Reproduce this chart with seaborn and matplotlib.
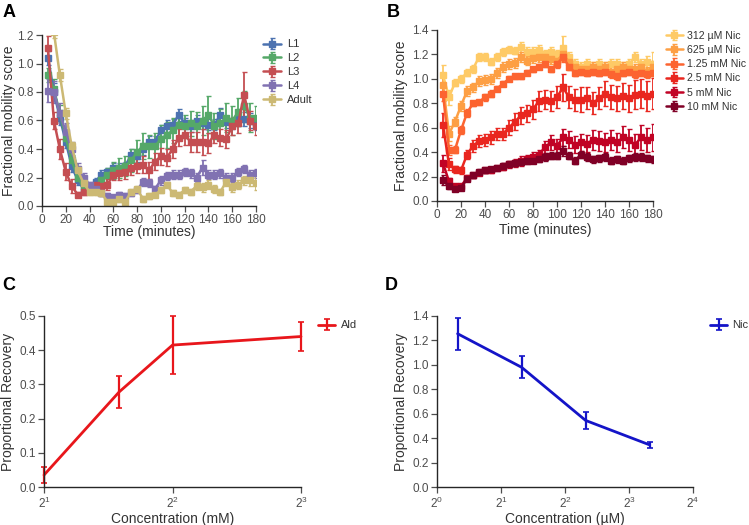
import numpy as np
import matplotlib
matplotlib.use("Agg")
import matplotlib.pyplot as plt
import seaborn as sns
from matplotlib.ticker import NullLocator, FixedLocator, FixedFormatter

sns.set_theme(style="ticks")
plt.rcParams['font.family'] = ['Liberation Sans', 'DejaVu Sans']
plt.rcParams['text.color'] = '0.2'
plt.rcParams['axes.labelcolor'] = '0.2'
plt.rcParams['xtick.color'] = '0.3'
plt.rcParams['ytick.color'] = '0.3'
plt.rcParams['axes.edgecolor'] = '0.15'
plt.rcParams['mathtext.default'] = 'regular'

# ---------------- Panel A data ----------------
time = list(range(5, 181, 5))
stages = ["L1", "L2", "L3", "L4", "Adult"]
L1 = [1.04, 0.80, 0.62, 0.45, 0.28, 0.18, 0.12, 0.14, 0.17, 0.22, 0.24, 0.27, 0.27, 0.28, 0.36, 0.35, 0.40, 0.45,
      0.45, 0.53, 0.56, 0.57, 0.64, 0.58, 0.56, 0.60, 0.58, 0.57, 0.57, 0.64, 0.59, 0.58, 0.61, 0.61, 0.60, 0.58]
L1_err = [0.05, 0.06, 0.05, 0.04, 0.04, 0.03, 0.02, 0.02, 0.03, 0.03, 0.03, 0.03, 0.03, 0.03, 0.04, 0.04, 0.04, 0.04,
          0.04, 0.04, 0.04, 0.04, 0.04, 0.04, 0.04, 0.04, 0.04, 0.04, 0.04, 0.05, 0.04, 0.04, 0.05, 0.05, 0.05, 0.05]
L2 = [0.92, 0.82, 0.65, 0.48, 0.32, 0.20, 0.13, 0.12, 0.14, 0.18, 0.22, 0.25, 0.27, 0.28, 0.32, 0.38, 0.42, 0.42,
      0.42, 0.47, 0.50, 0.53, 0.57, 0.56, 0.58, 0.56, 0.60, 0.64, 0.56, 0.58, 0.62, 0.60, 0.66, 0.70, 0.62, 0.62]
L2_err = [0.05, 0.07, 0.06, 0.05, 0.04, 0.03, 0.03, 0.03, 0.04, 0.05, 0.05, 0.06, 0.07, 0.07, 0.08, 0.08, 0.09, 0.08,
          0.09, 0.10, 0.09, 0.09, 0.08, 0.08, 0.09, 0.10, 0.10, 0.13, 0.09, 0.10, 0.10, 0.10, 0.10, 0.11, 0.10, 0.08]
L3 = [1.11, 0.60, 0.40, 0.24, 0.14, 0.08, 0.10, 0.13, 0.15, 0.14, 0.15, 0.22, 0.23, 0.24, 0.27, 0.28, 0.29, 0.25,
      0.31, 0.35, 0.34, 0.40, 0.48, 0.50, 0.45, 0.45, 0.45, 0.44, 0.50, 0.48, 0.47, 0.56, 0.58, 0.78, 0.60, 0.56]
L3_err = [0.08, 0.06, 0.07, 0.06, 0.05, 0.02, 0.02, 0.03, 0.03, 0.04, 0.04, 0.04, 0.05, 0.05, 0.05, 0.05, 0.06, 0.06,
          0.06, 0.06, 0.06, 0.06, 0.06, 0.07, 0.07, 0.07, 0.09, 0.07, 0.06, 0.06, 0.06, 0.06, 0.07, 0.16, 0.07, 0.06]
L4 = [0.81, 0.80, 0.65, 0.52, 0.40, 0.26, 0.20, 0.15, 0.12, 0.09, 0.07, 0.06, 0.08, 0.07, 0.09, 0.11, 0.17, 0.16,
      0.12, 0.18, 0.21, 0.22, 0.22, 0.24, 0.23, 0.20, 0.27, 0.22, 0.22, 0.23, 0.20, 0.20, 0.24, 0.26, 0.22, 0.23]
L4_err = [0.08, 0.08, 0.07, 0.06, 0.05, 0.04, 0.03, 0.02, 0.02, 0.02, 0.02, 0.02, 0.02, 0.02, 0.02, 0.02, 0.03, 0.03,
          0.02, 0.03, 0.03, 0.03, 0.03, 0.03, 0.03, 0.03, 0.05, 0.03, 0.03, 0.03, 0.03, 0.03, 0.03, 0.03, 0.03, 0.03]
Adult = [1.25, 1.22, 0.92, 0.65, 0.42, 0.25, 0.16, 0.10, 0.10, 0.09, 0.03, 0.03, 0.05, 0.03, 0.10, 0.12, 0.05, 0.07,
         0.08, 0.11, 0.15, 0.09, 0.08, 0.11, 0.10, 0.14, 0.13, 0.15, 0.12, 0.10, 0.17, 0.13, 0.15, 0.18, 0.18, 0.16]
Adult_err = [0.04, 0.04, 0.04, 0.04, 0.03, 0.03, 0.03, 0.02, 0.02, 0.02, 0.02, 0.02, 0.02, 0.02, 0.02, 0.02, 0.02, 0.02,
             0.02, 0.02, 0.02, 0.02, 0.02, 0.02, 0.02, 0.03, 0.03, 0.03, 0.03, 0.02, 0.03, 0.03, 0.03, 0.03, 0.04, 0.05]

# ---------------- Panel B data ----------------
doses = ["312 \u00b5M Nic", "625 \u00b5M Nic", "1.25 mM Nic", "2.5 mM Nic", "5 mM Nic", "10 mM Nic"]
N312 = [1.03, 0.85, 0.97, 1.00, 1.05, 1.08, 1.18, 1.18, 1.14, 1.18, 1.22, 1.24, 1.23, 1.26, 1.22, 1.22, 1.24, 1.20,
        1.22, 1.20, 1.25, 1.18, 1.12, 1.10, 1.12, 1.10, 1.12, 1.10, 1.12, 1.12, 1.10, 1.12, 1.18, 1.12, 1.14, 1.12]
N312_err = [0.08, 0.06, 0.03, 0.03, 0.03, 0.03, 0.03, 0.03, 0.03, 0.03, 0.03, 0.03, 0.03, 0.04, 0.04, 0.04, 0.04, 0.04,
            0.04, 0.04, 0.10, 0.04, 0.04, 0.04, 0.04, 0.04, 0.04, 0.04, 0.04, 0.04, 0.04, 0.04, 0.04, 0.04, 0.05, 0.10]
N625 = [0.95, 0.55, 0.65, 0.78, 0.90, 0.93, 0.98, 0.99, 1.00, 1.05, 1.10, 1.12, 1.13, 1.18, 1.15, 1.17, 1.18, 1.18,
        1.16, 1.15, 1.20, 1.14, 1.10, 1.08, 1.08, 1.10, 1.08, 1.10, 1.06, 1.08, 1.10, 1.08, 1.08, 1.10, 1.06, 1.10]
N625_err = [0.08, 0.06, 0.04, 0.04, 0.04, 0.04, 0.04, 0.04, 0.04, 0.04, 0.04, 0.04, 0.04, 0.04, 0.04, 0.04, 0.04, 0.04,
            0.04, 0.04, 0.05, 0.04, 0.04, 0.04, 0.04, 0.04, 0.04, 0.04, 0.04, 0.04, 0.04, 0.04, 0.04, 0.04, 0.04, 0.05]
N1250 = [0.88, 0.42, 0.42, 0.58, 0.72, 0.80, 0.81, 0.85, 0.88, 0.92, 0.96, 1.00, 1.02, 1.02, 1.05, 1.08, 1.10, 1.12,
         1.08, 1.12, 1.18, 1.10, 1.05, 1.06, 1.05, 1.06, 1.05, 1.06, 1.04, 1.02, 1.05, 1.06, 1.04, 1.05, 1.04, 1.05]
N1250_err = [0.06, 0.04, 0.03, 0.03, 0.03, 0.02, 0.02, 0.03, 0.03, 0.02, 0.02, 0.02, 0.02, 0.02, 0.02, 0.02, 0.02, 0.02,
             0.02, 0.03, 0.04, 0.03, 0.03, 0.03, 0.03, 0.03, 0.03, 0.03, 0.03, 0.03, 0.03, 0.03, 0.03, 0.03, 0.03, 0.03]
N2500 = [0.62, 0.30, 0.26, 0.25, 0.38, 0.45, 0.49, 0.50, 0.52, 0.55, 0.55, 0.60, 0.65, 0.70, 0.72, 0.75, 0.82, 0.83,
         0.82, 0.85, 0.93, 0.85, 0.83, 0.83, 0.84, 0.80, 0.84, 0.88, 0.85, 0.84, 0.86, 0.84, 0.87, 0.88, 0.86, 0.88]
N2500_err = [0.10, 0.05, 0.03, 0.03, 0.04, 0.05, 0.05, 0.05, 0.05, 0.05, 0.05, 0.06, 0.07, 0.07, 0.07, 0.08, 0.08, 0.08,
             0.08, 0.09, 0.11, 0.09, 0.09, 0.10, 0.09, 0.09, 0.09, 0.10, 0.10, 0.10, 0.11, 0.11, 0.12, 0.12, 0.12, 0.13]
N5000 = [0.31, 0.16, 0.12, 0.12, 0.19, 0.21, 0.23, 0.25, 0.25, 0.27, 0.28, 0.30, 0.31, 0.33, 0.34, 0.36, 0.38, 0.44,
         0.48, 0.45, 0.52, 0.50, 0.46, 0.48, 0.47, 0.50, 0.49, 0.48, 0.50, 0.48, 0.52, 0.50, 0.46, 0.52, 0.50, 0.52]
N5000_err = [0.07, 0.03, 0.02, 0.02, 0.02, 0.02, 0.02, 0.02, 0.02, 0.02, 0.03, 0.03, 0.03, 0.04, 0.04, 0.04, 0.04, 0.05,
             0.06, 0.06, 0.07, 0.07, 0.07, 0.07, 0.07, 0.08, 0.08, 0.08, 0.08, 0.08, 0.09, 0.09, 0.09, 0.10, 0.10, 0.11]
N10000 = [0.17, 0.12, 0.10, 0.11, 0.18, 0.21, 0.24, 0.25, 0.26, 0.27, 0.29, 0.30, 0.31, 0.32, 0.33, 0.33, 0.34, 0.36,
          0.37, 0.37, 0.41, 0.37, 0.33, 0.38, 0.36, 0.34, 0.35, 0.36, 0.33, 0.34, 0.33, 0.35, 0.36, 0.36, 0.35, 0.34]
N10000_err = [0.04, 0.02, 0.02, 0.02, 0.02, 0.02, 0.02, 0.02, 0.02, 0.02, 0.02, 0.02, 0.02, 0.02, 0.02, 0.02, 0.02, 0.03,
              0.03, 0.03, 0.04, 0.03, 0.03, 0.03, 0.03, 0.03, 0.03, 0.03, 0.03, 0.03, 0.03, 0.03, 0.03, 0.03, 0.03, 0.03]

# ---------------- Panel C data ----------------
ald_conc = [2, 3, 4, 8]
ald_rec = [0.035, 0.278, 0.415, 0.440]
ald_err = [0.023, 0.047, 0.086, 0.042]

# ---------------- Panel D data ----------------
nic_conc = [1.25, 2.5, 5, 10]
nic_rec = [1.255, 0.98, 0.545, 0.345]
nic_err = [0.13, 0.09, 0.07, 0.025]

W, H = 749, 525
fig = plt.figure(figsize=(W / 100, H / 100), dpi=100)

def box(l, t, r, b):
    return [l / W, 1 - b / H, (r - l) / W, (b - t) / H]

axA = fig.add_axes(box(42, 35, 256, 206))
axB = fig.add_axes(box(437, 30, 653, 201))
axC = fig.add_axes(box(44, 316, 301, 487))
axD = fig.add_axes(box(437, 316, 693, 487))

tick_fs = 8.5
lab_fs = 10

def style(ax, ylab_px, left_px, width_px):
    sns.despine(ax=ax)
    ax.tick_params(labelsize=tick_fs, length=4, width=0.9, direction='out', pad=2)
    for s in ax.spines.values():
        s.set_linewidth(1.0)
    # right edge of the rotated y label (in figure pixels)
    ax.yaxis.set_label_coords((ylab_px - left_px) / width_px, 0.5)

# Panel A
palA = sns.color_palette(["#4C72B0", "#55A868", "#C44E52", "#8172B2", "#CCB974"])
seriesA = [(L1, L1_err), (L2, L2_err), (L3, L3_err), (L4, L4_err), (Adult, Adult_err)]
for (m, e), name, c in zip(seriesA, stages, palA):
    axA.errorbar(time, m, yerr=e, color=c, marker='s', markersize=4, lw=1.8,
                 elinewidth=1.3, capsize=1.8, capthick=1.0, label=name)
axA.set_xlim(0, 180)
axA.set_ylim(0, 1.2)
axA.set_xticks(range(0, 181, 20))
axA.set_yticks(np.arange(0, 1.21, 0.2))
axA.set_xlabel("Time (minutes)", fontsize=lab_fs, labelpad=-1)
axA.set_ylabel("Fractional mobility score", fontsize=lab_fs)
style(axA, 16, 42, 214)
axA.legend(loc='upper left', bbox_to_anchor=(1.01, 1.0), frameon=False, fontsize=8,
           handlelength=1.7, handletextpad=0.5, labelspacing=0.35, borderaxespad=0)

# Panel B
cmap = matplotlib.colormaps['YlOrRd']
palB = sns.color_palette([cmap(v) for v in np.linspace(0.3, 1.0, 6)])
seriesB = [(N312, N312_err), (N625, N625_err), (N1250, N1250_err), (N2500, N2500_err),
           (N5000, N5000_err), (N10000, N10000_err)]
for (m, e), name, c in zip(seriesB, doses, palB):
    axB.errorbar(time, m, yerr=e, color=c, marker='s', markersize=4, lw=1.8,
                 elinewidth=1.3, capsize=1.8, capthick=1.0, label=name)
axB.set_xlim(0, 180)
axB.set_ylim(0, 1.4)
axB.set_xticks(range(0, 181, 20))
axB.set_yticks(np.arange(0, 1.41, 0.2))
axB.set_xlabel("Time (minutes)", fontsize=lab_fs, labelpad=1)
axB.set_ylabel("Fractional mobility score", fontsize=lab_fs)
style(axB, 408, 437, 216)
axB.legend(loc='upper left', bbox_to_anchor=(1.04, 1.02), frameon=False, fontsize=7.6,
           handlelength=1.6, handletextpad=0.4, labelspacing=0.4, borderaxespad=0)

# Panel C
axC.errorbar(ald_conc, ald_rec, yerr=ald_err, color='#e8161b', lw=2.0, elinewidth=1.6,
             capsize=2.5, capthick=1.2, label='Ald', clip_on=False)
axC.set_xscale('log', base=2)
axC.set_xlim(2, 8)
axC.xaxis.set_major_locator(FixedLocator([2, 4, 8]))
axC.xaxis.set_major_formatter(FixedFormatter([r'$2^{1}$', r'$2^{2}$', r'$2^{3}$']))
axC.xaxis.set_minor_locator(NullLocator())
axC.set_ylim(0, 0.5)
axC.set_yticks(np.arange(0, 0.51, 0.1))
axC.set_xlabel("Concentration (mM)", fontsize=lab_fs, labelpad=1)
axC.set_ylabel("Proportional Recovery", fontsize=lab_fs)
style(axC, 15, 44, 257)
axC.legend(loc='upper left', bbox_to_anchor=(1.05, 1.0), frameon=False, fontsize=8,
           handlelength=1.5, handletextpad=0.5, borderaxespad=0)

# Panel D
axD.errorbar(nic_conc, nic_rec, yerr=nic_err, color='#1414c8', lw=2.0, elinewidth=1.6,
             capsize=2.5, capthick=1.2, label='Nic')
axD.set_xscale('log', base=2)
axD.set_xlim(1, 16)
axD.xaxis.set_major_locator(FixedLocator([1, 2, 4, 8, 16]))
axD.xaxis.set_major_formatter(FixedFormatter(
    [r'$2^{0}$', r'$2^{1}$', r'$2^{2}$', r'$2^{3}$', r'$2^{4}$']))
axD.xaxis.set_minor_locator(NullLocator())
axD.set_ylim(0, 1.4)
axD.set_yticks(np.arange(0, 1.41, 0.2))
axD.set_xlabel("Concentration (\u00b5M)", fontsize=lab_fs, labelpad=1)
axD.set_ylabel("Proportional Recovery", fontsize=lab_fs)
style(axD, 408, 437, 256)
axD.legend(loc='upper left', bbox_to_anchor=(1.05, 1.0), frameon=False, fontsize=8,
           handlelength=1.5, handletextpad=0.5, borderaxespad=0)

# Panel letters
for txt, x, y in [("A", 3, 4), ("B", 387, 4), ("C", 2, 277), ("D", 385, 277)]:
    fig.text(x / W, 1 - y / H, txt, fontsize=13, fontweight='bold', color='black', va='top', ha='left')

fig.savefig("out.png", dpi=100)
